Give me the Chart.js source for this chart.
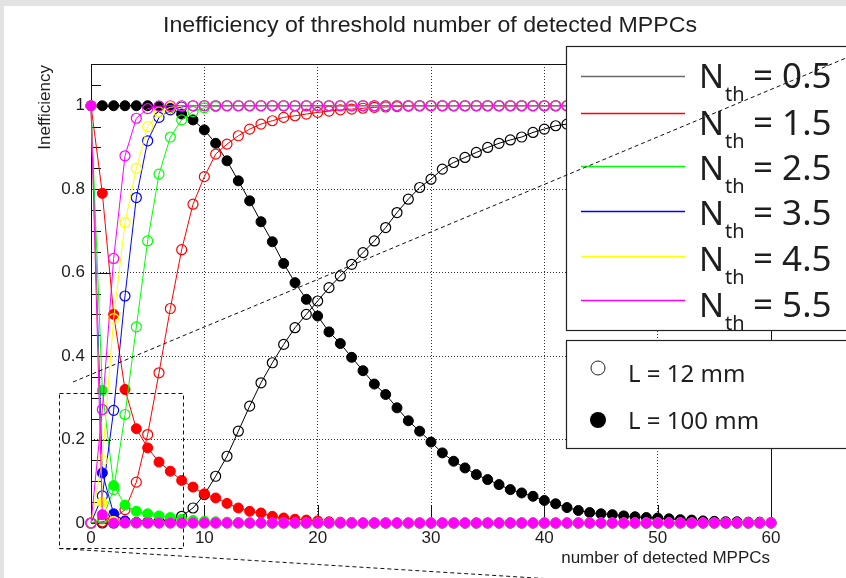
<!DOCTYPE html>
<html>
<head>
<meta charset="utf-8">
<title>Inefficiency of threshold number of detected MPPCs</title>
<script src="https://cdn.jsdelivr.net/npm/chart.js@4.4.1/dist/chart.umd.min.js"></script>
<style>
  html, body { margin: 0; padding: 0; background: #e3e3e3; }
  canvas { display: block; }
</style>
</head>
<body>
<canvas id="chart" width="846" height="578"></canvas>
<script>
// number of detected MPPCs (x)
const nMppc = [
  0, 1, 2, 3, 4, 5, 6, 7, 8, 9,
  10, 11, 12, 13, 14, 15, 16, 17, 18, 19,
  20, 21, 22, 23, 24, 25, 26, 27, 28, 29,
  30, 31, 32, 33, 34, 35, 36, 37, 38, 39,
  40, 41, 42, 43, 44, 45, 46, 47, 48, 49,
  50, 51, 52, 53, 54, 55, 56, 57, 58, 59,
  60
];

const thresholds = ["0.5", "1.5", "2.5", "3.5", "4.5", "5.5"];
const lengths = ["12 mm", "100 mm"];

// L = 12 mm (open markers)
const ineffL12Nth05 = [
  0, 0, 0, 0.001, 0.001, 0.002, 0.004, 0.008, 0.016, 0.036,
  0.068, 0.112, 0.16, 0.22, 0.28, 0.336, 0.384, 0.428, 0.468, 0.5,
  0.532, 0.564, 0.592, 0.62, 0.648, 0.676, 0.708, 0.744, 0.776, 0.804,
  0.824, 0.848, 0.864, 0.876, 0.888, 0.9, 0.91, 0.918, 0.925, 0.936,
  0.944, 0.952, 0.956, 0.962, 0.967, 0.971, 0.975, 0.978, 0.981, 0.984,
  0.986, 0.988, 0.99, 0.991, 0.992, 0.993, 0.994, 0.995, 0.996, 0.997,
  0.998
];
const ineffL12Nth15 = [
  0, 0.003, 0.01, 0.032, 0.098, 0.212, 0.36, 0.514, 0.655, 0.764,
  0.83, 0.884, 0.908, 0.928, 0.944, 0.956, 0.964, 0.972, 0.976, 0.98,
  0.984, 0.987, 0.99, 0.992, 0.994, 0.996, 0.997, 0.998, 0.999, 1,
  1, 1, 1, 1, 1, 1, 1, 1, 1, 1,
  1, 1, 1, 1, 1, 1, 1, 1, 1, 1,
  1, 1, 1, 1, 1, 1, 1, 1, 1, 1,
  1
];
const ineffL12Nth25 = [
  0, 0.01, 0.08, 0.26, 0.47, 0.676, 0.836, 0.925, 0.966, 0.986,
  0.995, 0.998, 1, 1, 1, 1, 1, 1, 1, 1,
  1, 1, 1, 1, 1, 1, 1, 1, 1, 1,
  1, 1, 1, 1, 1, 1, 1, 1, 1, 1,
  1, 1, 1, 1, 1, 1, 1, 1, 1, 1,
  1, 1, 1, 1, 1, 1, 1, 1, 1, 1,
  1
];
const ineffL12Nth35 = [
  0, 0.065, 0.27, 0.544, 0.78, 0.916, 0.972, 0.99, 0.997, 1,
  1, 1, 1, 1, 1, 1, 1, 1, 1, 1,
  1, 1, 1, 1, 1, 1, 1, 1, 1, 1,
  1, 1, 1, 1, 1, 1, 1, 1, 1, 1,
  1, 1, 1, 1, 1, 1, 1, 1, 1, 1,
  1, 1, 1, 1, 1, 1, 1, 1, 1, 1,
  1
];
const ineffL12Nth45 = [
  0, 0.15, 0.49, 0.72, 0.85, 0.95, 0.985, 0.996, 1, 1,
  1, 1, 1, 1, 1, 1, 1, 1, 1, 1,
  1, 1, 1, 1, 1, 1, 1, 1, 1, 1,
  1, 1, 1, 1, 1, 1, 1, 1, 1, 1,
  1, 1, 1, 1, 1, 1, 1, 1, 1, 1,
  1, 1, 1, 1, 1, 1, 1, 1, 1, 1,
  1
];
const ineffL12Nth55 = [
  0, 0.272, 0.634, 0.88, 0.97, 0.993, 0.999, 1, 1, 1,
  1, 1, 1, 1, 1, 1, 1, 1, 1, 1,
  1, 1, 1, 1, 1, 1, 1, 1, 1, 1,
  1, 1, 1, 1, 1, 1, 1, 1, 1, 1,
  1, 1, 1, 1, 1, 1, 1, 1, 1, 1,
  1, 1, 1, 1, 1, 1, 1, 1, 1, 1,
  1
];

// L = 100 mm (filled markers)
const ineffL100Nth05 = [
  1, 1, 1, 1, 1, 1, 0.999, 0.995, 0.98, 0.966,
  0.942, 0.91, 0.868, 0.82, 0.772, 0.722, 0.674, 0.622, 0.576, 0.536,
  0.496, 0.458, 0.43, 0.397, 0.365, 0.333, 0.308, 0.276, 0.245, 0.22,
  0.194, 0.168, 0.148, 0.132, 0.116, 0.104, 0.092, 0.08, 0.072, 0.064,
  0.054, 0.046, 0.037, 0.03, 0.025, 0.022, 0.02, 0.017, 0.015, 0.013,
  0.012, 0.01, 0.008, 0.007, 0.005, 0.004, 0.003, 0.003, 0.002, 0.002,
  0.001
];
const ineffL100Nth15 = [
  1, 0.79, 0.5, 0.32, 0.226, 0.18, 0.146, 0.124, 0.102, 0.086,
  0.07, 0.06, 0.047, 0.036, 0.028, 0.024, 0.016, 0.012, 0.009, 0.007,
  0.005, 0.003, 0.002, 0.001, 0, 0, 0, 0, 0, 0,
  0, 0, 0, 0, 0, 0, 0, 0, 0, 0,
  0, 0, 0, 0, 0, 0, 0, 0, 0, 0,
  0, 0, 0, 0, 0, 0, 0, 0, 0, 0,
  0
];
const ineffL100Nth25 = [
  1, 0.318, 0.09, 0.043, 0.028, 0.022, 0.017, 0.013, 0.009, 0.006,
  0.004, 0.003, 0.002, 0.001, 0, 0, 0, 0, 0, 0,
  0, 0, 0, 0, 0, 0, 0, 0, 0, 0,
  0, 0, 0, 0, 0, 0, 0, 0, 0, 0,
  0, 0, 0, 0, 0, 0, 0, 0, 0, 0,
  0, 0, 0, 0, 0, 0, 0, 0, 0, 0,
  0
];
const ineffL100Nth35 = [
  1, 0.12, 0.022, 0.005, 0.001, 0, 0, 0, 0, 0,
  0, 0, 0, 0, 0, 0, 0, 0, 0, 0,
  0, 0, 0, 0, 0, 0, 0, 0, 0, 0,
  0, 0, 0, 0, 0, 0, 0, 0, 0, 0,
  0, 0, 0, 0, 0, 0, 0, 0, 0, 0,
  0, 0, 0, 0, 0, 0, 0, 0, 0, 0,
  0
];
const ineffL100Nth45 = [
  1, 0.05, 0.004, 0, 0, 0, 0, 0, 0, 0,
  0, 0, 0, 0, 0, 0, 0, 0, 0, 0,
  0, 0, 0, 0, 0, 0, 0, 0, 0, 0,
  0, 0, 0, 0, 0, 0, 0, 0, 0, 0,
  0, 0, 0, 0, 0, 0, 0, 0, 0, 0,
  0, 0, 0, 0, 0, 0, 0, 0, 0, 0,
  0
];
const ineffL100Nth55 = [
  1, 0.02, 0, 0, 0, 0, 0, 0, 0, 0,
  0, 0, 0, 0, 0, 0, 0, 0, 0, 0,
  0, 0, 0, 0, 0, 0, 0, 0, 0, 0,
  0, 0, 0, 0, 0, 0, 0, 0, 0, 0,
  0, 0, 0, 0, 0, 0, 0, 0, 0, 0,
  0, 0, 0, 0, 0, 0, 0, 0, 0, 0,
  0
];

const yTickLabels = ["0", "0.2", "0.4", "0.6", "0.8", "1"];
const xTickLabels = ["0", "10", "20", "30", "40", "50", "60"];

const seriesL12 = [ineffL12Nth05, ineffL12Nth15, ineffL12Nth25, ineffL12Nth35, ineffL12Nth45, ineffL12Nth55];
const seriesL100 = [ineffL100Nth05, ineffL100Nth15, ineffL100Nth25, ineffL100Nth35, ineffL100Nth45, ineffL100Nth55];
const colors = ["#000000", "#ff0000", "#00ff00", "#0000ff", "#ffff00", "#ff00ff"];

const AXIS_FONT = "'Liberation Sans', Arial, sans-serif";
const LEGEND_FONT = "'Noto Sans', 'Liberation Sans', sans-serif";
const TEXT = "#1e1e1e";

function toPoints(values) {
  return values.map((v, i) => ({ x: nMppc[i], y: v }));
}

const datasets = [];
thresholds.forEach((th, i) => {
  datasets.push({
    label: "Nth = " + th + ", L = " + lengths[0],
    data: toPoints(seriesL12[i]),
    borderColor: colors[i],
    borderWidth: 1,
    pointRadius: 5,
    pointBorderWidth: 1.2,
    pointBorderColor: colors[i],
    pointBackgroundColor: "rgba(0,0,0,0)",
  });
  datasets.push({
    label: "Nth = " + th + ", L = " + lengths[1],
    data: toPoints(seriesL100[i]),
    borderColor: colors[i],
    borderWidth: 1,
    pointRadius: 5,
    pointBorderWidth: 1,
    pointBorderColor: colors[i],
    pointBackgroundColor: colors[i],
  });
});
// later thresholds are painted on top, as in the original
datasets.forEach((ds, i) => {
  ds.order = datasets.length - i;
  ds.clip = false;
  ds.tension = 0;
  ds.fill = false;
});

const backgroundPlugin = {
  id: "background",
  beforeDraw(chart) {
    const c = chart.ctx;
    c.save();
    c.fillStyle = "#e3e3e3";
    c.fillRect(0, 0, chart.width, chart.height);
    c.fillStyle = "#ffffff";
    c.fillRect(4, 6, chart.width - 4, chart.height - 6);
    c.restore();
  },
};

// frame and inward ticks, ROOT style
const framePlugin = {
  id: "frame",
  beforeDatasetsDraw(chart) {
    const { ctx: c, chartArea: a } = chart;
    const xs = chart.scales.x;
    const ys = chart.scales.y;
    c.save();
    c.strokeStyle = "#111";
    c.lineWidth = 1;
    c.strokeRect(a.left + 0.5, a.top + 0.5, a.right - a.left, a.bottom - a.top);
    c.beginPath();
    for (let k = 0; k <= 22; k++) {
      const v = k * 0.05;
      const py = Math.round(ys.getPixelForValue(v)) + 0.5;
      const len = k % 4 === 0 ? 20 : 10;
      c.moveTo(a.left, py);
      c.lineTo(a.left + len, py);
    }
    xTickLabels.forEach((t) => {
      const px = Math.round(xs.getPixelForValue(Number(t))) + 0.5;
      c.moveTo(px, a.bottom);
      c.lineTo(px, a.bottom - 18);
    });
    c.stroke();
    c.restore();
  },
};

const legendRows = [
  { line: 76, base: 88 },
  { line: 113, base: 135 },
  { line: 166, base: 180 },
  { line: 211, base: 225 },
  { line: 256, base: 271 },
  { line: 300, base: 317 },
];

const overlayPlugin = {
  id: "overlay",
  afterDraw(chart) {
    const c = chart.ctx;
    c.save();

    // title
    c.fillStyle = TEXT;
    c.font = "22px " + AXIS_FONT;
    c.textBaseline = "alphabetic";
    const title = "Inefficiency of threshold number of detected MPPCs";
    const tw = c.measureText(title).width;
    c.save();
    c.translate(163, 32);
    c.scale(534 / tw, 1);
    c.textAlign = "left";
    c.fillText(title, 0, 0);
    c.restore();

    // axis titles
    c.font = "17px " + AXIS_FONT;
    c.textAlign = "right";
    c.fillText("number of detected MPPCs", 770, 563);
    c.save();
    c.translate(50, 65);
    c.rotate(-Math.PI / 2);
    c.textAlign = "right";
    c.fillText("Inefficiency", 0, 0);
    c.restore();

    // legend: thresholds
    c.fillStyle = "#fff";
    c.strokeStyle = "#222";
    c.lineWidth = 1.2;
    c.fillRect(566, 46.5, 290, 284);
    c.strokeRect(566.5, 46.5, 290, 284);
    thresholds.forEach((th, i) => {
      const r = legendRows[i];
      c.strokeStyle = i === 0 ? "#6a6a6a" : colors[i];
      c.lineWidth = 1.4;
      c.beginPath();
      c.moveTo(581, r.line + 0.5);
      c.lineTo(685, r.line + 0.5);
      c.stroke();
      c.fillStyle = TEXT;
      c.textAlign = "left";
      c.font = "33px " + LEGEND_FONT;
      c.fillText("N", 699, r.base);
      c.font = "20px " + LEGEND_FONT;
      c.fillText("th", 725, r.base + 13);
      c.font = "35px " + LEGEND_FONT;
      c.fillText("= " + th, 753, r.base);
    });

    // legend: lengths
    c.fillStyle = "#fff";
    c.strokeStyle = "#222";
    c.lineWidth = 1.2;
    c.fillRect(566, 340.5, 290, 108);
    c.strokeRect(566.5, 340.5, 290, 108);
    c.lineWidth = 1;
    c.beginPath();
    c.arc(598, 368, 7, 0, Math.PI * 2);
    c.stroke();
    c.fillStyle = "#000";
    c.beginPath();
    c.arc(598, 420, 8, 0, Math.PI * 2);
    c.fill();
    c.fillStyle = TEXT;
    c.font = "24px " + LEGEND_FONT;
    c.textAlign = "left";
    c.fillText("L = " + lengths[0], 628, 382);
    c.fillText("L = " + lengths[1], 628, 429);

    // dashed zoom-inset guide lines
    c.strokeStyle = "#111";
    c.lineWidth = 1;
    c.setLineDash([4, 3]);
    c.strokeRect(59.5, 393.5, 124, 155);
    c.beginPath();
    c.moveTo(73, 382);
    c.lineTo(846, 58);
    c.moveTo(59, 548.5);
    c.lineTo(560, 579.5);
    c.stroke();
    c.restore();
  },
};

new Chart(document.getElementById("chart"), {
  type: "line",
  data: { datasets },
  options: {
    responsive: false,
    animation: false,
    devicePixelRatio: 1,
    layout: { padding: { top: 64, right: 75, left: 0, bottom: 0 } },
    plugins: {
      legend: { display: false },
      title: { display: false },
      tooltip: { enabled: false },
    },
    scales: {
      x: {
        type: "linear",
        min: 0,
        max: 60,
        afterFit: (s) => { s.height = 55; },
        afterBuildTicks: (s) => { s.ticks = xTickLabels.map((t) => ({ value: Number(t) })); },
        ticks: {
          padding: 5,
          color: TEXT,
          font: { family: AXIS_FONT, size: 17 },
          maxRotation: 0,
          autoSkip: false,
          callback: (v) => xTickLabels[xTickLabels.indexOf(String(v))] ?? "",
        },
        grid: { color: "#333", lineWidth: 1, drawTicks: false },
        border: { display: false, dash: [1, 2] },
      },
      y: {
        type: "linear",
        min: 0,
        max: 1.1,
        afterFit: (s) => { s.width = 91; },
        afterBuildTicks: (s) => { s.ticks = yTickLabels.map((t) => ({ value: Number(t) })); },
        ticks: {
          padding: 6,
          color: TEXT,
          font: { family: AXIS_FONT, size: 17 },
          autoSkip: false,
          callback: (v) => yTickLabels[yTickLabels.indexOf(String(v))] ?? "",
        },
        grid: { color: "#333", lineWidth: 1, drawTicks: false },
        border: { display: false, dash: [1, 2] },
      },
    },
  },
  plugins: [backgroundPlugin, framePlugin, overlayPlugin],
});
</script>
</body>
</html>
